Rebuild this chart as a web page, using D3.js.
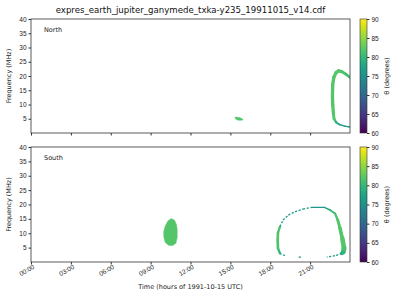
<!DOCTYPE html>
<html>
<head>
<meta charset="utf-8">
<script src="https://cdn.jsdelivr.net/npm/d3@7"></script>
<style>
  body { margin: 0; background: #fff; }
  svg { font-family: "DejaVu Sans", sans-serif; }
  .tick text { fill: #222; }
  .domain, .tick line { stroke: #333; }
</style>
</head>
<body>
<div id="chart"></div>
<script>
// tick labels
const timeTicks = ["00:00", "03:00", "06:00", "09:00", "12:00", "15:00", "18:00", "21:00"];
const timeTickHours = [0, 3, 6, 9, 12, 15, 18, 21];
const freqTicks = [5, 10, 15, 20, 25, 30, 35, 40];
const thetaTicks = [60, 65, 70, 75, 80, 85, 90];

// emission regions: [hour, MHz] outlines
const northBlob = [[15.35, 5.6], [15.7, 5.4], [15.95, 4.8], [15.9, 4.5], [15.57, 4.5], [15.37, 5.0]];
const northBlobTheta = 82;
const southBlob = [[10.55, 15.1], [10.8, 14.5], [10.95, 13], [11.0, 11], [11.0, 8.5], [10.9, 6.5],
  [10.65, 5.7], [10.35, 5.8], [10.1, 6.8], [10.0, 8.5], [9.98, 10.5], [10.1, 12.5], [10.3, 14.3]];
const southBlobTheta = 82;

// arcs: [hour, MHz, theta, duration in hours]
const northArc = [[22.95, 3.8, 79, 0.15], [22.8, 5.0, 82, 0.2], [22.75, 7, 82, 0.25], [22.7, 10, 82, 0.25],
  [22.68, 13, 82, 0.25], [22.7, 17, 82, 0.25], [22.78, 19.5, 82, 0.25], [22.95, 21.2, 82, 0.25],
  [23.15, 21.8, 82, 0.25], [23.4, 21.5, 82, 0.22], [23.7, 20.6, 81, 0.2], [24.0, 19.5, 81, 0.2]];
const northArcTail = [[24.0, 2.1, 76, 0.1], [23.6, 2.4, 76, 0.1], [23.2, 3.0, 77, 0.12], [22.95, 3.8, 79, 0.15]];

const southLoop = [[21.12, 19.0, 76, 0.1], [22.07, 19.0, 76, 0.1], [22.5, 18.1, 79, 0.12], [22.87, 16.9, 81, 0.15],
  [23.08, 14.6, 82, 0.2], [23.25, 11.7, 82, 0.25], [23.42, 8.2, 82, 0.3], [23.55, 4.8, 82, 0.4],
  [23.5, 3.5, 81, 0.35], [23.38, 3.0, 78, 0.2]];
const southLoopLeft = [[18.73, 3.0, 79, 0.15], [18.58, 4.8, 81, 0.2], [18.56, 7.7, 82, 0.2],
  [18.58, 10.1, 82, 0.2], [18.73, 12.3, 81, 0.15]];
const southLoopSparse = [
  [[18.73, 12.3, 78, 0.1], [18.96, 14.6, 77, 0.1], [19.36, 16.3, 76, 0.1], [19.86, 17.5, 76, 0.1],
   [20.46, 18.4, 76, 0.1], [21.12, 19.0, 76, 0.1]],
  [[23.38, 3.0, 77, 0.1], [22.87, 2.2, 76, 0.1], [22.25, 1.7, 76, 0.1]],
  [[20.3, 1.7, 76, 0.1], [20.05, 1.7, 76, 0.1]],
  [[19.11, 2.2, 77, 0.1], [18.73, 3.0, 77, 0.1]]
];

const svg = d3.select("#chart").append("svg")
  .attr("width", 400)
  .attr("height", 300);

const x = d3.scaleLinear().domain([0, 24]).range([31, 350]);
const color = t => d3.interpolateViridis((t - 60) / 30);

svg.append("text")
  .attr("x", 190.5)
  .attr("y", 13)
  .attr("text-anchor", "middle")
  .style("font-size", "8.6px")
  .style("fill", "#111")
  .text("expres_earth_jupiter_ganymede_txka-y235_19911015_v14.cdf");

// colorbar gradient
const defs = svg.append("defs");
const grad = defs.append("linearGradient")
  .attr("id", "viridis")
  .attr("x1", 0).attr("y1", 1).attr("x2", 0).attr("y2", 0);
d3.range(0, 1.0001, 0.05).forEach(p => {
  grad.append("stop").attr("offset", p).attr("stop-color", d3.interpolateViridis(p));
});

const panels = [
  { top: 19, h: 114, name: "North", blob: northBlob, blobTheta: northBlobTheta,
    arcs: [northArc, northArcTail], sparse: [], labels: false },
  { top: 147, h: 115, name: "South", blob: southBlob, blobTheta: southBlobTheta,
    arcs: [southLoop, southLoopLeft], sparse: southLoopSparse, labels: true }
];

panels.forEach(p => {
  const y = d3.scaleLinear().domain([0, 40]).range([p.top + p.h, p.top]);
  const g = svg.append("g");

  const line = d3.line().x(d => x(d[0])).y(d => y(d[1]));

  // clip to the axes
  const clipId = "clip" + p.name;
  defs.append("clipPath").attr("id", clipId)
    .append("rect").attr("x", 31).attr("y", p.top).attr("width", 319).attr("height", p.h);
  const plot = g.append("g").attr("clip-path", `url(#${clipId})`);

  plot.append("path")
    .attr("d", line(p.blob) + "Z")
    .attr("fill", color(p.blobTheta))
    .attr("stroke", color(p.blobTheta))
    .attr("stroke-width", 0.5);

  const drawArc = (pts, dash) => {
    for (let i = 0; i < pts.length - 1; i++) {
      const a = pts[i], b = pts[i + 1];
      plot.append("path")
        .attr("d", line([a, b]))
        .attr("fill", "none")
        .attr("stroke", color((a[2] + b[2]) / 2))
        .attr("stroke-width", x((a[3] + b[3]) / 2) - x(0))
        .attr("stroke-linecap", dash ? "butt" : "round")
        .attr("stroke-dasharray", dash ? "2.2,1.6" : null);
    }
  };
  p.arcs.forEach(a => drawArc(a, false));
  p.sparse.forEach(a => drawArc(a, true));

  // frame
  g.append("rect")
    .attr("x", 31).attr("y", p.top).attr("width", 319).attr("height", p.h)
    .attr("fill", "none").attr("stroke", "#333").attr("stroke-width", 0.8);

  const yAxis = g.append("g")
    .attr("transform", "translate(31,0)")
    .call(d3.axisLeft(y).tickValues(freqTicks).tickSize(2.5).tickPadding(2));
  yAxis.select(".domain").remove();
  yAxis.selectAll("text").style("font-size", "6.5px");

  const xAxis = g.append("g")
    .attr("transform", `translate(0,${p.top + p.h})`)
    .call(d3.axisBottom(x).tickValues(timeTickHours).tickSize(2.5)
      .tickFormat((d, i) => p.labels ? timeTicks[i] : ""));
  xAxis.select(".domain").remove();
  xAxis.selectAll("text")
    .style("font-size", "6.5px")
    .attr("text-anchor", "end")
    .attr("dy", null)
    .attr("y", 7)
    .attr("x", 0)
    .attr("transform", "rotate(-30)");

  g.append("text")
    .attr("x", 44).attr("y", p.top + 12.5)
    .style("font-size", "6.5px").style("fill", "#222")
    .text(p.name);

  g.append("text")
    .attr("transform", `translate(11,${p.top + p.h / 2}) rotate(-90)`)
    .attr("text-anchor", "middle")
    .style("font-size", "6.5px").style("fill", "#222")
    .text("Frequency (MHz)");

  // colorbar
  const cy = d3.scaleLinear().domain([60, 90]).range([p.top + p.h, p.top]);
  g.append("rect")
    .attr("x", 360).attr("y", p.top).attr("width", 7).attr("height", p.h)
    .attr("fill", "url(#viridis)").attr("stroke", "#333").attr("stroke-width", 0.6);
  const cAxis = g.append("g")
    .attr("transform", "translate(367,0)")
    .call(d3.axisRight(cy).tickValues(thetaTicks).tickSize(2.5).tickPadding(2));
  cAxis.select(".domain").remove();
  cAxis.selectAll("text").style("font-size", "6.5px");

  g.append("text")
    .attr("transform", `translate(389,${p.top + p.h / 2}) rotate(-90)`)
    .attr("text-anchor", "middle")
    .style("font-size", "6.5px").style("fill", "#222")
    .text("θ (degrees)");
});

svg.append("text")
  .attr("x", 190.5).attr("y", 289)
  .attr("text-anchor", "middle")
  .style("font-size", "6.5px").style("fill", "#222")
  .text("Time (hours of 1991-10-15 UTC)");
</script>
</body>
</html>
